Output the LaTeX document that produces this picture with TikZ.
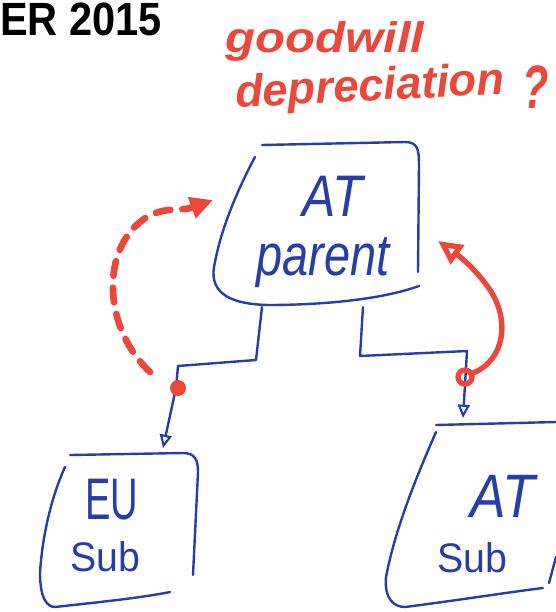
\documentclass[tikz,border=0pt]{standalone}
\usepackage{fontspec}
\setmainfont{Liberation Sans}
\usetikzlibrary{arrows.meta}
\definecolor{pen}{RGB}{40,62,165}
\definecolor{marker}{RGB}{234,72,58}
\newcommand{\fsz}[1]{\fontsize{#1}{#1}\selectfont}
\begin{document}
\begin{tikzpicture}[x=0.75pt,y=-0.75pt,line cap=round,line join=round,
  bluepen/.style={draw=pen,line width=1.8pt},
  redpen/.style={draw=marker,line width=4.5pt},
  bluetext/.style={inner sep=0pt,text=pen,font=\itshape},
  redtext/.style={inner sep=0pt,text=marker,font=\bfseries\itshape},
  openhead/.style={-{Triangle[open,length=10pt,width=9pt,line width=1.6pt]}},
]
\useasboundingbox (0,0) rectangle (556,612);
\fill[white] (0,0) rectangle (556,612);

% title
\node[anchor=north west,inner sep=0pt,xscale=0.89,font=\bfseries\fsz{35}] (title) at (0,3) {ER 2015};

% red question
\node[redtext,xscale=1.15,font=\bfseries\itshape\fsz{32}] (gw) at (325,41) {goodwill};
\node[redtext,xscale=1.0,rotate=3,font=\bfseries\itshape\fsz{34}] (dep) at (370,89) {depreciation};
\node[redtext,xscale=0.7,font=\bfseries\itshape\fsz{46}] (q) at (536,87) {?};

% parent box
\draw[bluepen] (262,145) -- (405,142) .. controls (418,142) and (419,150) .. (419,165) -- (418,272);
\draw[bluepen] (419,286) .. controls (380,300) and (320,305) .. (268,305)
  .. controls (225,304) and (208,290) .. (215,262) .. controls (222,225) and (240,185) .. (255,157);
\node[bluetext,xscale=0.85,font=\itshape\fsz{44}] (pAT) at (333,196) {AT};
\node[bluetext,xscale=0.8,font=\itshape\fsz{44}] (pname) at (323,263) {parent};

% EU sub box
\draw[bluepen] (70,455) -- (183,453) .. controls (195,453) and (198,460) .. (198,472) -- (193,575);
\draw[bluepen] (65,467) .. controls (50,500) and (42,540) .. (40,573) .. controls (40,600) and (48,607) .. (55,607) .. controls (100,602) and (140,598) .. (170,592);
\node[bluetext,xscale=0.65,font=\fsz{44}] (eu) at (112,500) {EU};
\node[bluetext,xscale=0.95,font=\fsz{31}] (eusub) at (105,557) {Sub};

% AT sub box
\draw[bluepen] (436,425) -- (556,422);
\draw[bluepen] (436,432) .. controls (415,480) and (395,530) .. (386,577) .. controls (384,600) and (395,607) .. (405,607) .. controls (460,600) and (510,592) .. (543,588);
\draw[bluepen] (549,583) -- (556,557);
\node[bluetext,xscale=0.87,font=\itshape\fsz{46}] (atsub) at (503,496) {AT};
\node[bluetext,xscale=0.95,font=\fsz{31}] (atsubs) at (472,558) {Sub};

% stems
\coordinate (pl) at (262,307);
\coordinate (pr) at (363,307);
\coordinate (tl) at (163,448);
\coordinate (tr) at (463,418);
\draw[bluepen,openhead] (pl) -- (256,360) -- (178,366) -- (176,388) -- (tl);
\draw[bluepen,openhead] (pr) -- (360,356) -- (467,351) -- (tr);

% red marks
\fill[marker] (178,388) circle (8);
\coordinate (dstart) at (150,372);
\coordinate (dend) at (213,200);
\draw[redpen,line width=5pt,dash pattern=on 11pt off 9pt,-{Triangle[length=17pt,width=16pt]}]
  (dstart) .. controls (105,330) and (100,255) .. (140,222) .. controls (160,205) and (180,212) .. (dend);
\draw[redpen,line width=4pt] (465,377) circle (7);
\coordinate (sstart) at (473,373);
\coordinate (send) at (438,241);
\draw[redpen,line width=4pt,-{Triangle[open,length=18pt,width=17pt,line width=4pt]}]
  (sstart) .. controls (505,360) and (510,320) .. (490,290) .. controls (478,272) and (462,258) .. (send);
\end{tikzpicture}
\end{document}
